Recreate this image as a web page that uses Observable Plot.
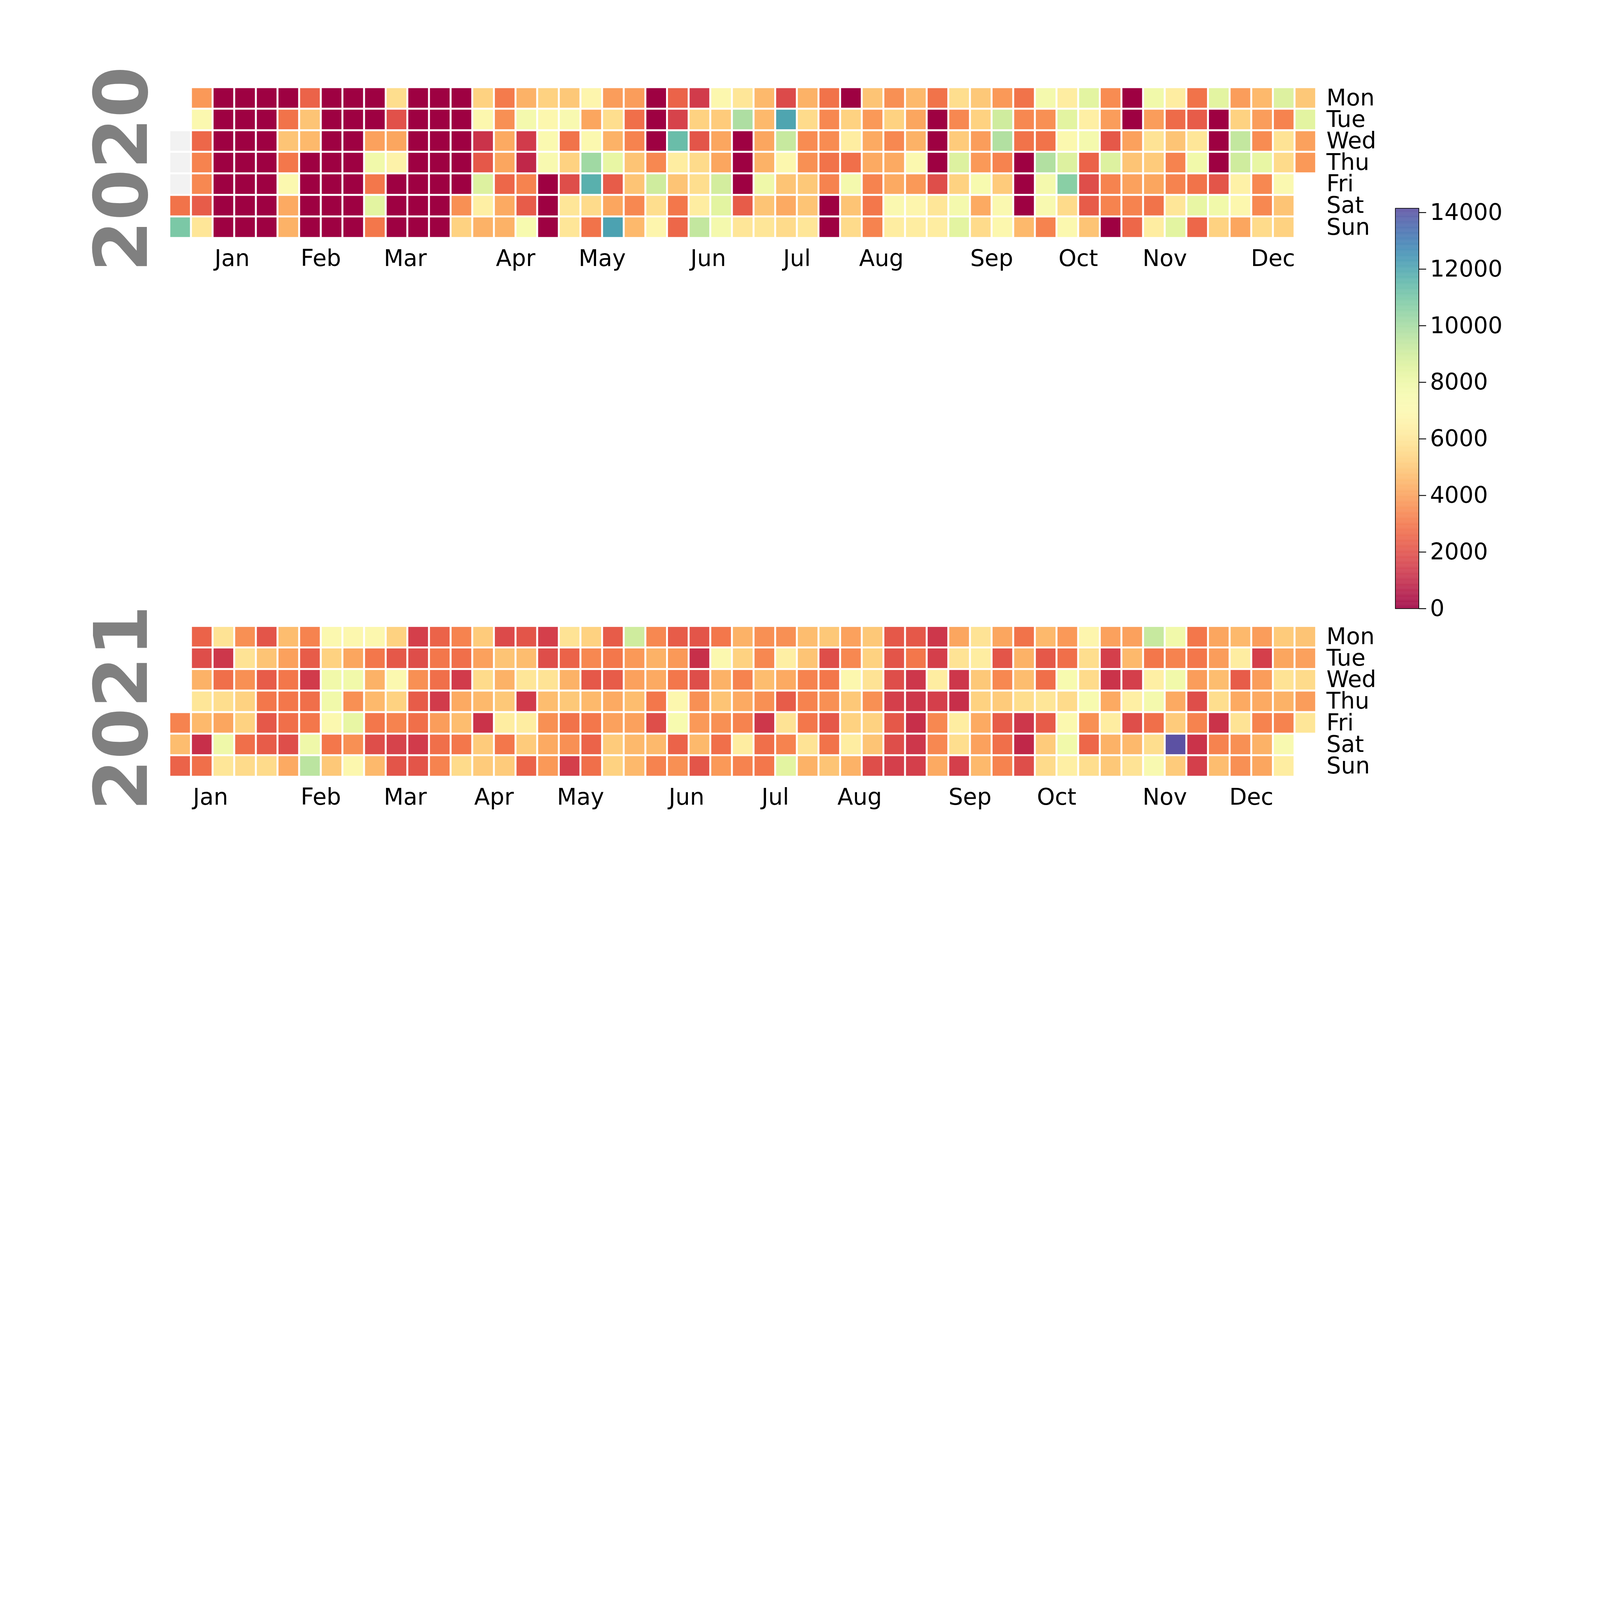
<!DOCTYPE html>
<html><head><meta charset="utf-8">
<script src="https://cdn.jsdelivr.net/npm/d3@7"></script>
<script src="https://cdn.jsdelivr.net/npm/@observablehq/plot@0.6"></script>
<style>html,body{margin:0;background:#fff;overflow:hidden}#wrap{position:relative;width:7362px;height:4110px;background:#fff;font-family:"DejaVu Sans",sans-serif;transform-origin:0 0}#wrap>div{position:absolute}#wrap svg{max-width:none!important;overflow:visible}</style>
</head><body><div id="wrap"><div id="y2020" style="left:0;top:301px"></div><div id="y2021" style="left:0;top:2780px"></div><div id="cbar" style="left:6300px;top:0"></div></div>
<script>
// values in thousands; rows Mon..Sun, columns = week of year (0..52); null = no data
const dayLabels = ["Mon","Tue","Wed","Thu","Fri","Sat","Sun"];
const monthLabels = ["Jan","Feb","Mar","Apr","May","Jun","Jul","Aug","Sep","Oct","Nov","Dec"];
const monthWeeks2020 = [2.9,7.0,10.9,16.0,20.0,24.9,29.0,32.9,38.0,42.0,46.0,51.0];
const monthWeeks2021 = [1.9,7.0,10.9,15.0,19.0,23.9,28.0,31.9,37.0,41.0,46.0,50.0];
const colorTicks = [0,2000,4000,6000,8000,10000,12000,14000];
const firstDataDay2020 = 3; // data starts Jan 4 2020

const v2020 = [
 [null,3.8,0,0,0,0,2.5,0,0,0,5.7,0,0,0,5.3,3.1,4.4,5.3,5.0,6.8,3.9,3.9,0,2.5,1.4,6.9,6.0, 4.6,1.8,4.4,2.9,0,4.9,3.6,4.6,2.9,5.7,5.0,3.8,2.9,7.6,6.3,8.4,3.5,0,7.8,6.3,2.9,8.4,3.9,4.6,8.6,5.0],
 [null,7.0,0,0,0,2.9,4.9,0,0,0,2.0,0,0,0,6.9,3.6,7.6,6.9,7.3,4.1,5.7,2.8,0,1.6,5.3,5.1,9.8, 4.6,12.0,5.6,3.4,5.3,3.8,5.3,4.1,0,3.4,5.3,9.0,3.4,3.6,8.4,6.4,3.9,0,3.9,2.7,2.3,0,5.3,3.9,3.3,8.4],
 [null,2.6,0,0,0,4.9,4.6,0,0,4.0,4.1,0,0,0,1.2,4.2,1.4,7.2,2.9,7.0,4.4,3.3,0,11.3,2.1,4.1,0, 4.1,9.2,3.5,3.5,6.3,4.2,3.4,4.4,0,5.1,3.9,9.7,2.9,2.9,7.0,7.6,2.2,4.0,5.9,4.9,6.0,0,9.3,3.5,5.9,4.0],
 [null,3.3,0,0,0,3.0,0,0,0,7.8,6.6,0,0,0,2.2,4.1,0.9,7.3,5.3,10.1,8.2,4.9,3.4,6.3,5.6,4.1,0, 4.4,6.9,3.6,2.9,2.8,4.2,4.2,7.0,0,8.6,3.8,3.3,0,9.7,8.6,2.5,8.6,4.9,5.1,3.3,7.8,0,9.0,8.2,5.6,3.8],
 [null,3.4,0,0,0,7.0,0,0,0,3.0,0,0,0,0,8.6,2.6,3.3,0,1.9,11.7,2.3,4.9,9.0,4.9,5.7,8.9,0, 7.9,4.9,5.0,3.3,7.6,3.3,4.2,3.8,1.9,5.3,7.4,5.1,0,7.6,10.6,1.9,3.3,4.0,4.1,3.3,2.9,2.1,6.5,3.4,7.1,null],
 [2.9,2.3,0,0,0,4.2,0,0,0,8.4,0,0,0,3.6,6.4,4.2,2.3,0,6.0,5.6,4.1,3.4,5.7,3.0,6.3,8.4,2.3, 4.9,4.2,4.9,0,4.9,3.0,7.1,6.8,6.0,7.6,4.2,7.1,0,7.3,5.6,2.3,3.3,3.3,2.9,6.0,8.2,7.8,6.9,3.4,4.9,null],
 [10.9,6.0,0,0,0,4.4,0,0,0,3.0,0,0,0,5.3,4.4,4.4,7.4,0,6.0,2.9,12.1,4.6,6.8,2.6,9.3,7.6,6.0, 6.0,5.6,6.0,0,5.6,3.3,6.3,6.3,6.3,8.4,5.6,6.9,4.6,3.3,7.0,4.9,0,2.6,6.3,8.4,2.6,5.3,4.1,5.6,5.3,null]
];
const v2021 = [
 [null,2.5,5.9,3.6,2.1,4.7,3.3,7.0,6.9,6.9,5.3,1.5,2.5,3.3,5.1,1.8,2.1,1.5,5.9,5.3,2.3,9.0,3.4,2.3,2.1,3.0,4.4, 3.6,3.6,4.7,5.0,4.0,5.0,2.2,2.2,1.3,4.1,5.9,4.1,2.9,4.6,3.8,6.8,4.0,4.0,9.2,7.8,3.0,4.1,4.6,3.9,5.1,4.9],
 [null,1.9,1.3,5.9,4.9,4.0,2.3,5.3,4.1,3.0,2.2,1.9,3.0,2.8,4.0,4.9,4.7,1.9,2.5,3.4,3.0,3.8,4.4,3.8,1.1,7.0,5.3, 3.4,6.4,4.9,1.9,3.4,5.3,2.1,3.0,1.5,5.9,6.3,2.1,4.4,2.2,2.8,5.7,1.5,4.6,3.0,3.3,3.0,3.9,6.3,1.5,4.1,4.0],
 [null,4.4,2.8,3.6,2.3,3.0,1.4,7.8,7.8,4.4,7.0,3.6,2.8,1.4,5.6,4.4,6.0,5.9,4.4,2.2,2.3,4.0,4.2,3.0,1.9,4.4,3.3, 4.7,4.2,3.3,3.0,6.9,5.9,1.9,1.3,6.3,1.3,5.0,3.4,4.7,2.8,7.4,5.6,1.2,1.5,6.4,7.8,3.9,4.7,2.3,3.9,5.9,5.6],
 [null,6.0,5.7,5.3,3.0,3.0,2.8,7.8,3.6,4.6,5.3,2.3,1.4,4.2,4.6,5.0,1.4,4.7,5.0,4.6,4.2,4.7,3.0,6.9,3.6,4.9,4.2, 3.6,2.3,3.3,3.6,5.0,3.6,1.5,1.3,1.5,1.1,5.3,5.1,5.7,6.0,5.6,7.4,4.2,6.4,7.6,4.2,1.9,5.7,4.2,4.2,4.4,3.9],
 [3.3,4.6,4.1,5.3,2.2,2.8,3.0,7.0,8.2,3.0,3.3,2.8,3.9,4.7,1.2,6.3,6.3,3.6,2.9,3.0,4.0,4.0,1.9,7.4,3.8,3.6,3.3, 1.3,5.9,3.0,2.2,5.3,5.3,2.2,1.1,3.4,6.3,4.2,2.3,1.3,2.3,7.0,3.6,6.3,1.9,2.8,5.1,3.3,1.2,5.9,3.3,3.3,6.0],
 [4.7,1.1,7.9,2.8,2.3,1.9,7.9,3.0,3.6,1.9,1.6,1.4,2.8,3.0,5.1,3.0,5.1,4.2,3.6,2.5,5.1,4.6,4.6,2.5,4.6,2.8,6.3, 2.8,3.3,5.9,2.9,6.3,4.9,1.9,1.3,3.4,5.7,4.0,2.8,0.9,5.1,7.8,2.6,4.4,4.6,5.7,14.1,1.2,3.3,3.6,4.4,7.3,null],
 [2.5,2.8,6.0,5.6,5.6,4.2,9.5,5.0,6.9,4.6,2.1,2.1,3.3,5.6,5.1,5.1,2.5,3.8,1.5,2.8,5.3,4.6,3.3,3.6,2.1,3.8,3.3, 3.0,8.4,4.4,4.9,4.4,1.9,1.5,1.5,4.2,1.5,4.6,3.3,1.9,5.6,6.4,5.7,5.0,5.9,7.3,5.1,1.5,4.7,3.6,4.1,6.3,null]
];

const cmax = 14150;
const colorOpt = {type:"linear", domain:[0,cmax], interpolate: d3.interpolateSpectral};
const FS = 105;

function yearPlot(year, vals, monthWeeks, firstDay) {
  const jan1 = new Date(year,0,1);
  const d0 = (jan1.getDay()+6)%7;
  const nDays = (year%4===0)?366:365;
  const cells = [], gray = [];
  for (let r=0;r<7;r++) for (let c=0;c<53;c++) {
    const doy = c*7+r-d0;
    if (doy<0 || doy>=nDays) continue;
    const v = vals[r][c];
    if (v==null || doy<firstDay) gray.push({c,r});
    else cells.push({c,r,v:v*1000});
  }
  const months = monthLabels.map((m,i)=>({m,w:monthWeeks[i]}));
  return Plot.plot({
    width:6360, height:1094, marginLeft:779, marginRight:304, marginTop:100, marginBottom:300,
    style:{fontFamily:"DejaVu Sans", fontSize:FS+"px", background:"transparent", maxWidth:"none", overflow:"visible"},
    x:{domain:[0,53], axis:null},
    y:{domain:[0,7], reverse:true, axis:null},
    color:colorOpt,
    marks:[
      Plot.rect(gray,{x1:"c",x2:d=>d.c+1,y1:"r",y2:d=>d.r+1,fill:"#f2f2f2",inset:4.5}),
      Plot.rect(cells,{x1:"c",x2:d=>d.c+1,y1:"r",y2:d=>d.r+1,fill:"v",inset:4.5}),
      Plot.text(dayLabels,{x:53,y:(d,i)=>i+0.5,text:d=>d,textAnchor:"start",dx:47,fontSize:FS,fill:"black"}),
      Plot.text(months,{x:"w",y:7,text:"m",dy:95,fontSize:FS,fill:"black",lineAnchor:"middle"}),
      Plot.text([String(year)],{frameAnchor:"left",dx:-213,dy:30,rotate:-90,fontSize:340,fontWeight:"bold",fill:"#808080",textAnchor:"middle",lineAnchor:"middle"})
    ]
  });
}
document.getElementById("y2020").appendChild(yearPlot(2020,v2020,monthWeeks2020,firstDataDay2020));
document.getElementById("y2021").appendChild(yearPlot(2021,v2021,monthWeeks2021,0));

const steps = d3.range(0,cmax,20);
const cb = Plot.plot({
  width:1000, height:2950, marginTop:958, marginBottom:150, marginLeft:120, marginRight:772,
  style:{fontFamily:"DejaVu Sans", fontSize:FS+"px", background:"transparent", maxWidth:"none"},
  x:{domain:[0,1], axis:null},
  y:{domain:[0,cmax], axis:null},
  color:colorOpt,
  marks:[
    Plot.rect(steps,{x1:0,x2:1,y1:d=>d,y2:d=>Math.min(cmax,d+20),fill:d=>d}),
    Plot.frame({stroke:"black",strokeWidth:3}),
    Plot.axisY(colorTicks,{anchor:"right",tickSize:33,tickPadding:18,fontSize:FS,tickFormat:d=>String(d),strokeWidth:4,fill:"black"})
  ]
});
document.getElementById("cbar").appendChild(cb);

function fit(){
  const s = Math.min(window.innerWidth/7362, window.innerHeight/4110, 1);
  document.getElementById("wrap").style.transform = s<1 ? `scale(${s})` : "";
}
fit(); window.addEventListener("resize", fit);
</script></body></html>
